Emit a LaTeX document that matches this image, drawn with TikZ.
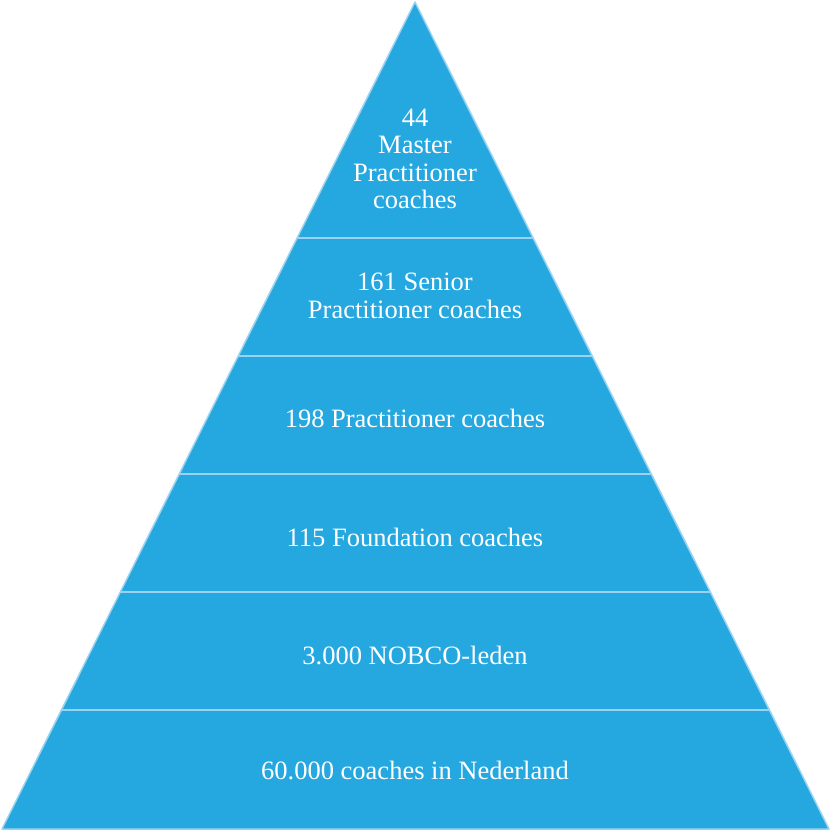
\documentclass[tikz,border=0pt]{standalone}
\usepackage{fontspec}
\setmainfont{Liberation Serif}
\usetikzlibrary{calc}
\definecolor{layerblue}{HTML}{25A8E0}
\definecolor{edgeblue}{HTML}{9AD3F2}
\tikzset{
	layertext/.style={text=white, align=center, font=\fontsize{26.5}{27.5}\selectfont},
}

\begin{document}
\begin{tikzpicture}[x=1pt, y=-1pt]
			%%%%% START %%%%%
			\useasboundingbox (0, 0) rectangle (831, 831);
			
			\coordinate (top) at (415, 2);
			\coordinate (left) at (2, 829);
			\coordinate (right) at (829, 829);
			
			\draw[fill=layerblue, draw=edgeblue, line width=1.5pt, line join=round] (top) -- (left) -- (right) -- cycle;
			
			% dividers between the layers
			\foreach \y in {238, 356, 474, 592, 710}
				\draw[edgeblue, line width=1.5pt] ({415-(\y-2)/2}, \y) -- ({415+(\y-2)/2}, \y);
			
			\node[layertext] (master) at (415, 159) {44\\Master\\Practitioner\\coaches};
			\node[layertext] (senior) at (415, 296) {161 Senior\\Practitioner coaches};
			\node[layertext] (practitioner) at (415, 418) {198 Practitioner coaches};
			\node[layertext] (foundation) at (415, 537) {115 Foundation coaches};
			\node[layertext] (leden) at (415, 655) {3.000 NOBCO-leden};
			\node[layertext] (nederland) at (415, 770) {60.000 coaches in Nederland};
			
			%%%%% END %%%%%
		\end{tikzpicture}
\end{document}
